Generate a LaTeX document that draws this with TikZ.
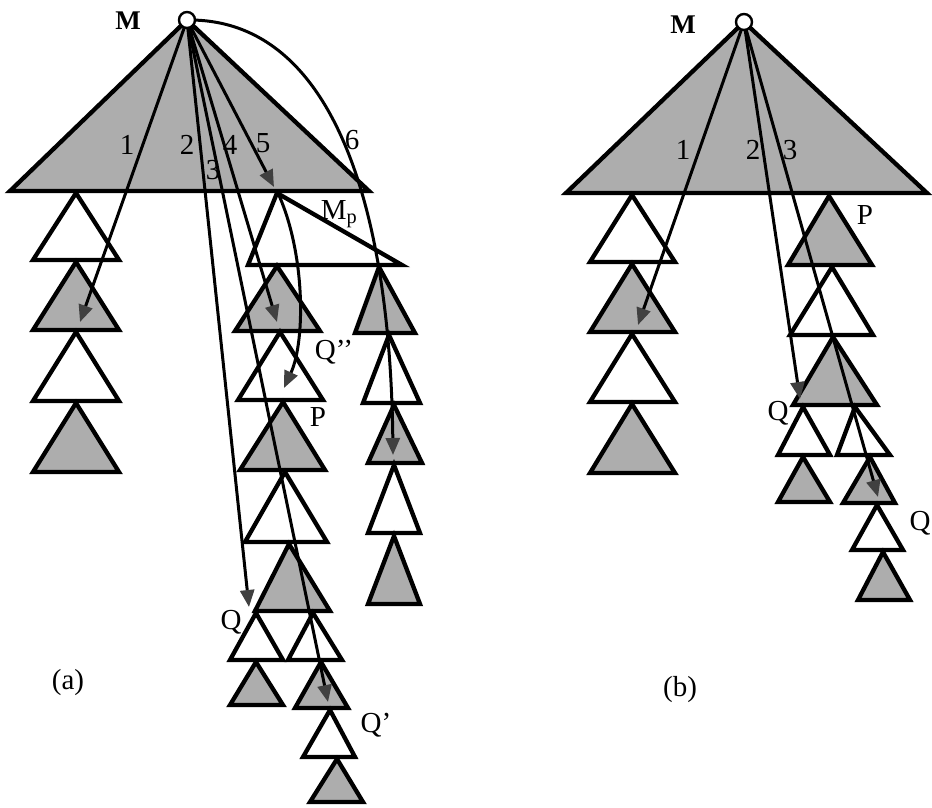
\documentclass[tikz,border=0pt]{standalone}
\usepackage{fontspec}
\setmainfont{Liberation Serif}
\usetikzlibrary{arrows.meta}
\begin{document}
\begin{tikzpicture}[x=1pt,y=-1pt,
  tri/.style={draw=black, line width=4.3pt, line join=miter},
  shaded/.style={tri, fill=black!32},
  blank/.style={tri, fill=white},
  arr/.style={line width=3pt, -{Triangle[length=17pt,width=14pt,color=black!75]}},
  lbl/.style={font=\fontsize{29}{34}\selectfont, inner sep=0pt},
  mlbl/.style={font=\fontsize{27}{32}\selectfont\bfseries, inner sep=0pt},
  dot/.style={circle, draw, line width=2.4pt, fill=white, minimum size=16pt, inner sep=0pt}]
\useasboundingbox (0,0) rectangle (932,807);

% ---------------- panel (a) ----------------
\coordinate (Ma) at (187,20);
\coordinate (Mp) at (277,191);
\draw[shaded] (187,20) -- (10,191) -- (369,191) -- cycle;
% left column
\draw[blank]  (76,193) -- (33,260) -- (119,260) -- cycle;
\draw[shaded] (76,262) -- (33,330) -- (119,330) -- cycle;
\draw[blank]  (76,332) -- (33,401) -- (119,401) -- cycle;
\draw[shaded] (76,403) -- (33,472) -- (119,472) -- cycle;
% middle column
\draw[blank]  (277,193) -- (248,265) -- (402,265) -- cycle;
\draw[shaded] (277,266) -- (235,331) -- (320,331) -- cycle;
\draw[blank]  (280,332) -- (238,400) -- (323,400) -- cycle;
\draw[shaded] (283,402) -- (240,470) -- (325,470) -- cycle;
\draw[blank]  (285,472) -- (245,542) -- (327,542) -- cycle;
\draw[shaded] (289,544) -- (255,611) -- (330,611) -- cycle;
\draw[blank]  (256,613) -- (230,660) -- (283,660) -- cycle;
\draw[blank]  (313,613) -- (288,660) -- (342,660) -- cycle;
\draw[shaded] (256,662) -- (230,705) -- (283,705) -- cycle;
\draw[shaded] (321,662) -- (295,708) -- (348,708) -- cycle;
\draw[blank]  (330,710) -- (303,757) -- (355,757) -- cycle;
\draw[shaded] (337,759) -- (310,802) -- (363,802) -- cycle;
% right column
\draw[shaded] (379,267) -- (355,333) -- (415,333) -- cycle;
\draw[blank]  (389,335) -- (363,403) -- (420,403) -- cycle;
\draw[shaded] (394,405) -- (368,463) -- (422,463) -- cycle;
\draw[blank]  (394,465) -- (368,533) -- (420,533) -- cycle;
\draw[shaded] (394,536) -- (368,604) -- (420,604) -- cycle;

\coordinate (a1) at (80,322);
\coordinate (a2) at (249,607);
\coordinate (a3) at (328,702);
\coordinate (a4) at (277,322);
\coordinate (a5) at (274,187);
\coordinate (a6) at (393,455);
\coordinate (ap) at (284,388);
\draw[arr] (Ma) -- (a1);
\draw[arr] (Ma) -- (a2);
\draw[arr] (Ma) -- (a3);
\draw[arr] (Ma) -- (a4);
\draw[arr] (Ma) -- (a5);
\draw[arr] (Ma) .. controls (330,18) and (390,200) .. (a6);
\draw[arr] (Mp) .. controls (305,250) and (306,340) .. (ap);
\node[dot] (Mca) at (Ma) {};

\node[mlbl] (lMa) at (128,21) {M};
\node[lbl] (n1a) at (127,145) {1};
\node[lbl] (n2a) at (187,145) {2};
\node[lbl] (n3a) at (213,170) {3};
\node[lbl] (n4a) at (230,145) {4};
\node[lbl] (n5a) at (263,143) {5};
\node[lbl] (n6a) at (352,140) {6};
\node[lbl] (lMp) at (339,214) {M\textsubscript{p}};
\node[lbl] (lQ2) at (334,352) {Q'{}'};
\node[lbl] (lPa) at (318,417) {P};
\node[lbl] (lQa) at (231,622) {Q};
\node[lbl] (lQ1) at (376,725) {Q'};
\node[lbl] (capa) at (68,683) {(a)};

% ---------------- panel (b) ----------------
\coordinate (Mb) at (744,22);
\draw[shaded] (744,22) -- (566,193) -- (927,193) -- cycle;
% left column
\draw[blank]  (632,195) -- (590,262) -- (675,262) -- cycle;
\draw[shaded] (632,264) -- (590,332) -- (675,332) -- cycle;
\draw[blank]  (632,334) -- (590,402) -- (675,402) -- cycle;
\draw[shaded] (632,404) -- (590,473) -- (675,473) -- cycle;
% right chain
\draw[shaded] (829,196) -- (788,265) -- (872,265) -- cycle;
\draw[blank]  (832,267) -- (790,335) -- (873,335) -- cycle;
\draw[shaded] (833,337) -- (793,405) -- (877,405) -- cycle;
\draw[blank]  (803,407) -- (778,455) -- (830,455) -- cycle;
\draw[blank]  (855,407) -- (837,455) -- (890,455) -- cycle;
\draw[shaded] (803,457) -- (778,502) -- (830,502) -- cycle;
\draw[shaded] (870,457) -- (843,503) -- (895,503) -- cycle;
\draw[blank]  (877,505) -- (852,550) -- (903,550) -- cycle;
\draw[shaded] (883,552) -- (858,600) -- (910,600) -- cycle;

\coordinate (b1) at (638,325);
\coordinate (b2) at (800,399);
\coordinate (b3) at (878,497);
\draw[arr] (Mb) -- (b1);
\draw[arr] (Mb) -- (b2);
\draw[arr] (Mb) -- (b3);
\node[dot] (Mcb) at (Mb) {};

\node[mlbl] (lMb) at (683,25) {M};
\node[lbl] (n1b) at (683,150) {1};
\node[lbl] (n2b) at (753,150) {2};
\node[lbl] (n3b) at (790,150) {3};
\node[lbl] (lPb) at (865,215) {P};
\node[lbl] (lQb) at (778,413) {Q};
\node[lbl] (lQc) at (920,523) {Q};
\node[lbl] (capb) at (680,690) {(b)};
\end{tikzpicture}
\end{document}
